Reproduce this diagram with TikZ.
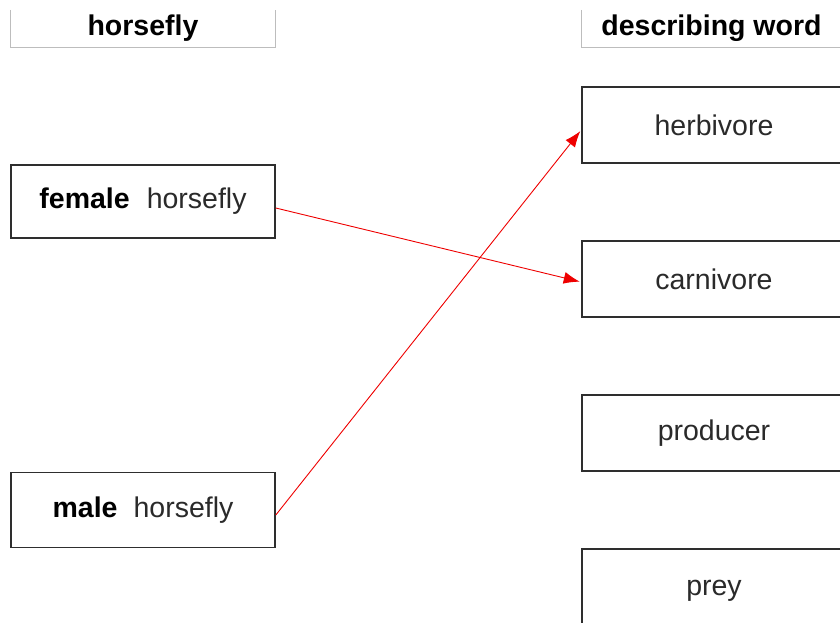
\documentclass[tikz,border=0pt]{standalone}
\usepackage{fontspec}
\setmainfont{Liberation Sans}
\usetikzlibrary{arrows.meta}
\definecolor{boxgray}{HTML}{2E2E2E}
\definecolor{hdrgray}{HTML}{BDBDBD}
\definecolor{txtgray}{HTML}{2A2A2A}
\definecolor{arrred}{HTML}{EE0000}
\begin{document}
\begin{tikzpicture}[x=1pt,y=-1pt,
  box/.style={draw=boxgray, line width=1.6pt, fill=white, minimum width=264pt,
    inner sep=0pt, text=txtgray, font=\fontsize{28.5}{32}\selectfont},
  hdr/.style={minimum width=264pt, minimum height=37pt, inner sep=0pt,
    font=\bfseries\fontsize{28.5}{32}\selectfont, text=black},
  hdrline/.style={draw=hdrgray, line width=1pt},
  conn/.style={draw=arrred, line width=0.9pt, -{Latex[length=16pt,width=12pt]}, shorten >=1.5pt}
]
\useasboundingbox (0,0) rectangle (840,622);
\clip (0,0) rectangle (840,622);

% headers
\node[hdr] (hL) at (143,28.5) {\raisebox{3pt}{horsefly}};
\node[hdr] (hR) at (711.5,28.5) {\raisebox{3pt}{describing word}};
\draw[hdrline] (hL.north west) -- (hL.south west) -- (hL.south east) -- (hL.north east);
\draw[hdrline] ([xshift=2pt]hR.north west) -- ([xshift=2pt]hR.south west) -- (hR.south east);

% left boxes
\node[box, minimum height=73pt] (female) at (143,201.5) {\textbf{\textcolor{black}{female}}\hspace{17pt}horsefly};
\node[box, minimum height=75pt] (male) at (143,510) {\textbf{\textcolor{black}{male}}\hspace{16pt}horsefly};

% right boxes
\node[box, minimum height=76pt] (herb) at (714,125) {herbivore};
\node[box, minimum height=76pt] (carn) at (714,279) {carnivore};
\node[box, minimum height=76pt] (prod) at (714,433) {producer};
\node[box, minimum height=76pt] (prey) at (714,587) {\raisebox{-8pt}[0pt][0pt]{prey}};

% connectors
\draw[conn] ([yshift=-6.5pt]female.east) -- ([yshift=-3pt]carn.west);
\draw[conn] ([yshift=-5pt]male.east) -- ([yshift=-5pt]herb.west);
\end{tikzpicture}
\end{document}
